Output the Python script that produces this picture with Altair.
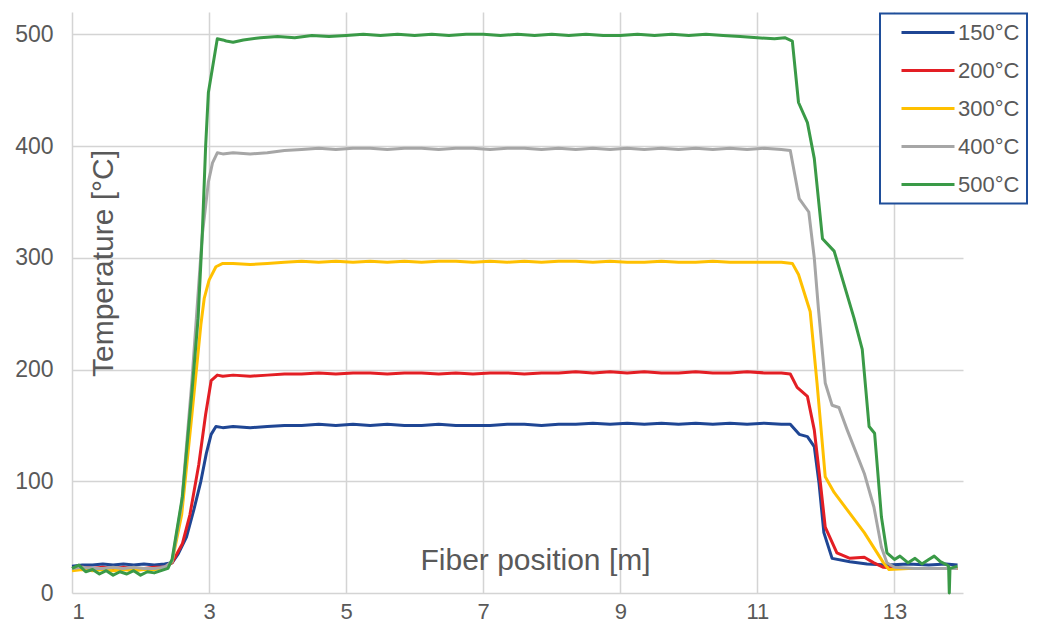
import altair as alt
import pandas as pd

SERIES = ["150°C", "200°C", "300°C", "400°C", "500°C"]
COLORS = ["#1f4694", "#e31e24", "#ffc000", "#a6a6a6", "#3a9a47"]

X_TICKS = [1, 3, 5, 7, 9, 11, 13]
Y_TICKS = [0, 100, 200, 300, 400, 500]

BASE_X = [1.0, 1.15, 1.3, 1.45, 1.6, 1.75, 1.9, 2.05, 2.2, 2.35]
PLAT_X = [3.35, 3.6, 3.85, 4.1, 4.35, 4.6, 4.85, 5.1, 5.35, 5.6, 5.85, 6.1, 6.35,
          6.6, 6.85, 7.1, 7.35, 7.6, 7.85, 8.1, 8.35, 8.6, 8.85, 9.1, 9.35, 9.6,
          9.85, 10.1, 10.35, 10.6, 10.85, 11.1, 11.35]

# 150 °C
X_150 = BASE_X + [2.46, 2.55, 2.67, 2.78, 2.88, 2.96, 3.03, 3.10, 3.2] + PLAT_X + \
    [11.48, 11.61, 11.73, 11.83, 11.90, 11.97, 12.09, 12.35, 12.6, 12.9, 13.2, 13.5, 13.75, 13.92]
T_150 = [24, 25, 25, 26, 25, 26, 25, 26, 25, 26] + [27, 35, 50, 75, 100, 125, 142, 149, 148] + \
    [149, 148, 149, 150, 150, 151, 150, 151, 150, 151, 150, 150, 151, 150, 150, 150, 151,
     151, 150, 151, 151, 152, 151, 152, 151, 152, 151, 152, 151, 152, 151, 152, 151] + \
    [151, 142, 140, 131, 98, 54, 31, 28, 26, 25, 26, 25, 26, 25]

# 200 °C
X_200 = BASE_X + [2.46, 2.61, 2.72, 2.85, 2.95, 3.03, 3.12, 3.2] + PLAT_X + \
    [11.48, 11.58, 11.73, 11.83, 11.92, 11.99, 12.16, 12.35, 12.56, 12.70, 12.84, 13.1, 13.4, 13.7, 13.92]
T_200 = [22, 23, 22, 23, 22, 23, 22, 22, 23, 23] + [27, 44, 70, 115, 160, 190, 195, 194] + \
    [195, 194, 195, 196, 196, 197, 196, 197, 197, 196, 197, 197, 196, 197, 196, 197, 197,
     196, 197, 197, 198, 197, 198, 197, 198, 197, 197, 198, 197, 197, 198, 197, 197] + \
    [196, 184, 176, 146, 98, 59, 36, 31, 32, 27, 23, 22, 22, 22, 22]

# 300 °C
X_300 = BASE_X + [2.46, 2.6, 2.75, 2.88, 2.93, 3.0, 3.1, 3.2] + PLAT_X + \
    [11.51, 11.6, 11.77, 11.87, 11.99, 12.12, 12.56, 12.84, 12.92, 13.2, 13.5, 13.92]
T_300 = [20, 21, 20, 21, 20, 21, 20, 21, 21, 22] + [28, 70, 160, 240, 264, 280, 292, 295] + \
    [295, 294, 295, 296, 297, 296, 297, 296, 297, 296, 297, 296, 297, 297, 296, 297, 296,
     297, 296, 297, 297, 296, 297, 296, 296, 297, 296, 296, 297, 296, 296, 296, 296] + \
    [295, 285, 252, 188, 104, 90, 54, 27, 21, 22, 22, 22]

# 400 °C
X_400 = BASE_X + [2.46, 2.6, 2.75, 2.9, 2.99, 3.05, 3.12, 3.2] + PLAT_X + \
    [11.48, 11.61, 11.75, 11.83, 11.89, 11.99, 12.09, 12.19, 12.31, 12.56, 12.70, 12.81,
     12.89, 13.0, 13.3, 13.6, 13.92]
T_400 = [22, 23, 22, 22, 23, 22, 23, 22, 22, 23] + [28, 80, 190, 320, 368, 385, 394, 393] + \
    [394, 393, 394, 396, 397, 398, 397, 398, 398, 397, 398, 398, 397, 398, 398, 397, 398,
     398, 397, 398, 397, 398, 397, 398, 397, 398, 397, 398, 397, 398, 397, 398, 397] + \
    [396, 353, 341, 300, 255, 188, 168, 166, 146, 107, 77, 41, 27, 23, 22, 22, 22]

# 500 °C
X_500 = [1.0, 1.1, 1.2, 1.3, 1.4, 1.5, 1.6, 1.7, 1.8, 1.9, 2.0, 2.1, 2.2, 2.3, 2.4,
         2.46, 2.61, 2.75, 2.84, 2.9, 2.95, 2.99, 3.05, 3.12, 3.2,
         3.25, 3.35, 3.5, 3.75, 4.0, 4.25, 4.5, 4.75, 5.0, 5.25, 5.5, 5.75, 6.0, 6.25,
         6.5, 6.75, 7.0, 7.25, 7.5, 7.75, 8.0, 8.25, 8.5, 8.75, 9.0, 9.25, 9.5, 9.75,
         10.0, 10.25, 10.5, 10.75, 11.0, 11.25, 11.4,
         11.51, 11.6, 11.73, 11.83, 11.95, 12.12, 12.41, 12.53, 12.63, 12.71, 12.81,
         12.89, 13.0, 13.08, 13.2, 13.3, 13.4, 13.5, 13.58, 13.67, 13.77, 13.79,
         13.80, 13.81, 13.92]
T_500 = [22, 25, 19, 21, 17, 20, 16, 19, 17, 20, 16, 19, 18, 20, 22,
         30, 86, 180, 246, 320, 400, 448, 470, 496, 495,
         494, 493, 495, 497, 498, 497, 499, 498, 499, 500, 499, 500, 499, 500,
         499, 500, 500, 499, 500, 499, 500, 499, 500, 499, 499, 500, 499, 500,
         499, 500, 499, 498, 497, 496, 497,
         494, 439, 421, 389, 317, 306, 246, 218, 149, 143, 68,
         36, 30, 33, 27, 31, 26, 30, 33, 28, 25, 24,
         0, 22, 24]

rows = []
for name, xs, ts in zip(SERIES, [X_150, X_200, X_300, X_400, X_500],
                        [T_150, T_200, T_300, T_400, T_500]):
    for i, (xv, tv) in enumerate(zip(xs, ts)):
        rows.append({"series": name, "pos": xv, "temp": tv, "order": i})
df = pd.DataFrame(rows)

TXT = "#595959"
FONT = "Liberation Sans"

chart = alt.Chart(df).mark_line(strokeWidth=3, strokeJoin="round").encode(
    x=alt.X("pos:Q",
            scale=alt.Scale(domain=[1, 14], nice=False, zero=False),
            axis=alt.Axis(values=X_TICKS, title="Fiber position [m]",
                          titleX=463, titleY=-24, titleAnchor="start",
                          titleAlign="center", titleBaseline="alphabetic",
                          labelBaseline="alphabetic", labelPadding=25,
                          labelFontSize=22)),
    y=alt.Y("temp:Q",
            scale=alt.Scale(domain=[0, 520], nice=False),
            axis=alt.Axis(values=Y_TICKS, title="Temperature [°C]",
                          titleX=31, titleY=251, titleAngle=270,
                          titleAlign="center", titleBaseline="middle",
                          labelPadding=19)),
    color=alt.Color("series:N",
                    scale=alt.Scale(domain=SERIES, range=COLORS),
                    legend=alt.Legend(title=None, orient="none",
                                      legendX=808, legendY=1.5,
                                      symbolType="stroke", symbolSize=2809,
                                      symbolStrokeWidth=3,
                                      clipHeight=24, rowPadding=14,
                                      padding=7, symbolOffset=13,
                                      labelOffset=2,
                                      labelFontSize=22, labelColor=TXT,
                                      labelFont=FONT,
                                      fillColor="white", strokeColor="#1f4e9a")),
    order="order:Q",
).properties(
    width=891, height=581,
    autosize=alt.AutoSizeParams(type="none"),
    padding={"left": 64, "top": 4, "right": 69, "bottom": 32},
).configure_axis(
    grid=True, gridColor="#d4d4d4", gridWidth=1.5,
    domain=False, ticks=False, tickSize=0,
    labelFont=FONT, labelFontSize=23, labelColor=TXT,
    titleFont=FONT, titleFontSize=30, titleColor=TXT, titleFontWeight="normal",
).configure_legend(
    strokeWidth=2,
).configure_view(stroke=None)

chart.save("out.html", embed_options={"renderer": "svg", "actions": False})
